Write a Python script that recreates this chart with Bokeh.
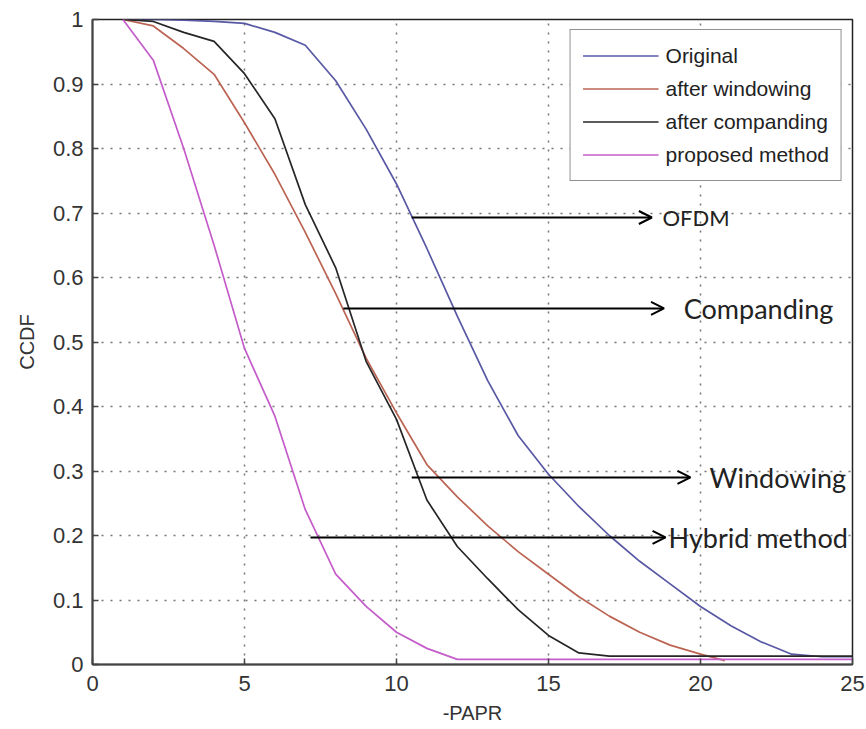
from bokeh.plotting import figure
from bokeh.models import ColumnDataSource, Arrow, OpenHead, FixedTicker, Range1d
from bokeh.core.properties import value
from bokeh.embed import file_html
from bokeh.resources import INLINE

# ---------------- data ----------------
papr = list(range(1, 26))
ccdf_original = [1.0, 1.0, 0.999, 0.997, 0.994, 0.98, 0.96, 0.905, 0.83, 0.745, 0.645, 0.54, 0.44,
                 0.355, 0.295, 0.245, 0.2, 0.16, 0.125, 0.09, 0.06, 0.035, 0.016, 0.012, 0.012]
papr_windowing = [1, 2, 3, 4, 5, 6, 7, 8, 9, 10, 11, 12, 13, 14, 15, 16, 17, 18, 19, 20, 20.8]
ccdf_windowing = [1.0, 0.99, 0.955, 0.915, 0.84, 0.76, 0.67, 0.575, 0.475, 0.39, 0.31, 0.26, 0.215,
                  0.175, 0.14, 0.105, 0.075, 0.05, 0.03, 0.016, 0.006]
ccdf_companding = [1.0, 0.997, 0.98, 0.966, 0.916, 0.846, 0.713, 0.615, 0.47, 0.38, 0.255, 0.183, 0.133,
                   0.085, 0.045, 0.018, 0.013, 0.013, 0.013, 0.013, 0.013, 0.013, 0.013, 0.013, 0.013]
ccdf_proposed = [1.0, 0.937, 0.8, 0.65, 0.49, 0.385, 0.24, 0.14, 0.09, 0.05, 0.025, 0.008, 0.008,
                 0.008, 0.008, 0.008, 0.008, 0.008, 0.008, 0.008, 0.008, 0.008, 0.008, 0.008, 0.008]

series_labels = ["Original", "after windowing", "after companding", "proposed method"]
series_colors = ["#5858a4", "#bb6453", "#262626", "#c45cc9"]

x_ticks = [0, 5, 10, 15, 20, 25]
y_ticks = [0, 0.1, 0.2, 0.3, 0.4, 0.5, 0.6, 0.7, 0.8, 0.9, 1.0]
y_tick_labels = ["0", "0.1", "0.2", "0.3", "0.4", "0.5", "0.6", "0.7", "0.8", "0.9", "1"]

ann_text = ["OFDM", "Companding", "Windowing", "Hybrid method"]
ann_x_start = [10.5, 8.25, 10.5, 7.17]
ann_x_end = [18.4, 18.8, 19.67, 18.85]
ann_y = [0.693, 0.552, 0.29, 0.197]
ann_text_x = [18.75, 19.45, 20.3, 18.95]
ann_font_size = ["22px", "27px", "27px", "27px"]

# ---------------- figure ----------------
p = figure(width=866, height=729, output_backend="svg", toolbar_location=None,
           x_range=Range1d(0, 25), y_range=Range1d(0, 1),
           min_border_left=92, min_border_right=14, min_border_top=19, min_border_bottom=65)
p.background_fill_color = "white"
p.border_fill_color = "white"
p.outline_line_color = "#222222"
p.outline_line_width = 1.5

tick_font = "Liberation Sans"
for ax in [p.xaxis[0], p.yaxis[0]]:
    ax.major_tick_in = 6
    ax.major_tick_out = 0
    ax.minor_tick_line_color = None
    ax.axis_line_width = 2
    ax.axis_line_color = "#444444"
    ax.major_tick_line_color = "#444444"
    ax.major_tick_line_width = 1.5
    ax.major_label_text_font = tick_font
    ax.major_label_text_font_size = "22px"
    ax.major_label_text_color = "#333333"
    ax.axis_label_text_font = tick_font
    ax.axis_label_text_font_style = "normal"
    ax.axis_label_text_font_size = "20px"
    ax.axis_label_text_color = "#333333"

p.xaxis.ticker = FixedTicker(ticks=x_ticks)
p.yaxis.ticker = FixedTicker(ticks=y_ticks)
p.yaxis.major_label_overrides = {t: l for t, l in zip(y_ticks, y_tick_labels)}
p.xaxis.axis_label = "-PAPR"
p.yaxis.axis_label = "CCDF"
p.xaxis.major_label_standoff = 11
p.xaxis.axis_label_standoff = 8
p.yaxis.major_label_standoff = 9
p.yaxis.axis_label_standoff = 12

p.xgrid.ticker = FixedTicker(ticks=x_ticks)
p.ygrid.ticker = FixedTicker(ticks=y_ticks)
for g in [p.xgrid[0], p.ygrid[0]]:
    g.grid_line_color = "#666666"
    g.grid_line_dash = "2 7"
    g.grid_line_width = 1.5
    g.grid_line_alpha = 0.9

# ---------------- curves ----------------
xs = [papr, papr_windowing, papr, papr]
ys = [ccdf_original, ccdf_windowing, ccdf_companding, ccdf_proposed]
for x, y, lab, col in zip(xs, ys, series_labels, series_colors):
    p.line(x, y, line_color=col, line_width=1.7, legend_label=lab)

# ---------------- annotation arrows ----------------
arrow_src = ColumnDataSource(dict(x0=ann_x_start, x1=ann_x_end, y=ann_y))
p.add_layout(Arrow(end=OpenHead(size=13, line_width=2, line_color="black"),
                   x_start="x0", y_start="y", x_end="x1", y_end="y",
                   line_width=2, line_color="black", source=arrow_src))
text_src = ColumnDataSource(dict(x=ann_text_x, y=ann_y, t=ann_text, fs=ann_font_size))
p.text(x="x", y="y", text="t", source=text_src, text_font=value("Lato"),
       text_font_size="fs", text_baseline="middle", text_align="left", text_color="#222222")

# ---------------- legend ----------------
lg = p.legend[0]
lg.location = "top_right"
lg.margin = 10
lg.border_line_color = "#222222"
lg.border_line_width = 1.5
lg.background_fill_color = "white"
lg.background_fill_alpha = 1
lg.label_text_font = tick_font
lg.label_text_font_size = "21px"
lg.label_text_color = "#222222"
lg.glyph_width = 76
lg.glyph_height = 27
lg.label_height = 27
lg.spacing = 6
lg.padding = 12
lg.label_standoff = 7

open("out.html", "w").write(file_html(p, INLINE))
